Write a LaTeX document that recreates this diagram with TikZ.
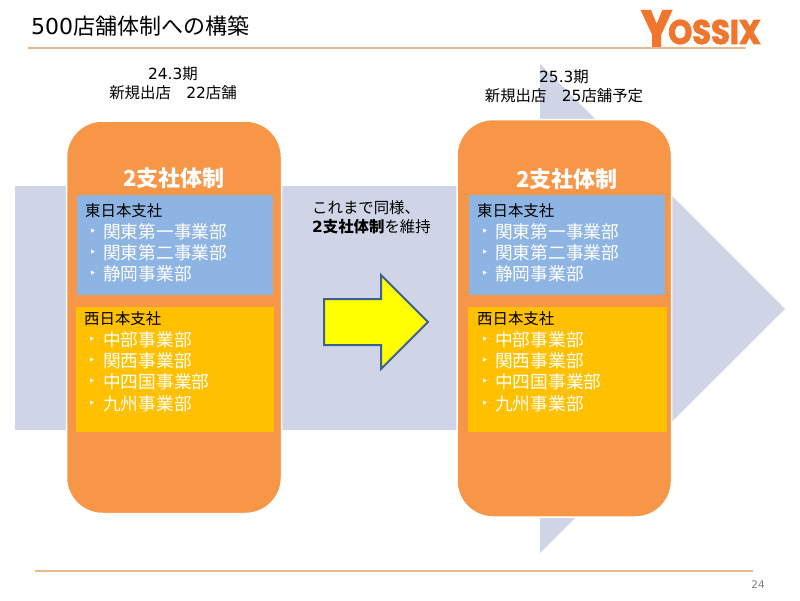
\documentclass[tikz,border=0pt]{standalone}
\usepackage{fontspec}
\setmainfont{DejaVu Sans}
\newfontfamily\cjk{Noto Sans CJK JP}
\newfontfamily\logofont[BoldFeatures={FakeBold=2.5,FakeStretch=0.9}]{Poppins}
\definecolor{bigarrow}{HTML}{CFD5E6}
\definecolor{orangebox}{HTML}{F79646}
\definecolor{bluebox}{HTML}{8EB4E3}
\definecolor{goldbox}{HTML}{FFC000}
\definecolor{rulecol}{HTML}{E8B888}
\definecolor{logocol}{HTML}{F0762E}
\definecolor{arrowedge}{HTML}{3F6190}
\definecolor{arrowfill}{HTML}{FFFF00}
\newcommand{\fs}[1]{\fontsize{#1}{#1}\selectfont}
\tikzset{
  x=1pt,y=-1pt,
  lbl/.style={inner sep=0pt,font=\cjk\fs{15.4},text=black,anchor=west},
  toptxt/.style={inner sep=0pt,font=\cjk\fs{15.4},text=black,align=center,anchor=center},
  headtxt/.style={inner sep=0pt,font=\cjk\bfseries\fs{22},text=white,anchor=center},
  itemtxt/.style={inner sep=0pt,font=\cjk\fs{17.7},text=white,anchor=west},
  tick/.style={inner sep=0pt,font=\fs{12},text=white,anchor=center},
  panel/.style={draw=white,line width=1.5pt,fill=orangebox,rounded corners=36pt},
  rulerline/.style={draw=rulecol,line width=1.2pt},
}
\begin{document}
\begin{tikzpicture}
\useasboundingbox (0,0) rectangle (800,600);
\fill[white] (0,0) rectangle (800,600);
% big arrow
\fill[bigarrow] (15,186) -- (540,186) -- (540,64) -- (785,309) -- (540,553) -- (540,430) -- (15,430) -- cycle;
% title
\node[inner sep=0pt,anchor=west] (title) at (31,26) {\fs{22}500\cjk\fs{22}店舗体制への構築};
\coordinate (r1a) at (28,48); \coordinate (r1b) at (746,48);
\draw[rulerline] (r1a) -- (r1b);
\coordinate (r2a) at (35,571); \coordinate (r2b) at (753,571);
\draw[rulerline] (r2a) -- (r2b);
\node[inner sep=0pt,text=gray,font=\fs{10.5}] (pageno) at (758,585) {24};
% logo
\node[inner sep=0pt,anchor=south west,text=logocol,font=\logofont\bfseries\fs{51}] (logoy) at (641,46.5) {Y};
\node[inner sep=0pt,anchor=west,text=logocol,font=\logofont\bfseries\fs{34}] (logor) at (668,32) {OSSIX};
% left panel
\node[toptxt] (l1) at (173,74) {\fontspec{DejaVu Sans}24.3\cjk 期};
\node[toptxt] (l2) at (173,93) {新規出店　{\fontspec{DejaVu Sans}22}店舗};
\draw[panel] (66.5,121) rectangle (281.5,513.5);
\node[headtxt] (lh) at (174,178) {2支社体制};
\fill[bluebox] (76.5,195) rectangle (272.5,295);
\fill[goldbox] (76,307) rectangle (274,432);
\node[lbl] (le) at (85,211) {東日本支社};
\node[tick] at (93,232.5) {‣}; \node[itemtxt] (le1) at (103,231.5) {関東第一事業部};
\node[tick] at (93,253.5) {‣}; \node[itemtxt] (le2) at (103,252.5) {関東第二事業部};
\node[tick] at (93,274.5) {‣}; \node[itemtxt] (le3) at (103,273.5) {静岡事業部};
\node[lbl] (lw) at (84,319) {西日本支社};
\node[tick] at (92,340.5) {‣}; \node[itemtxt] (lw1) at (103,339.5) {中部事業部};
\node[tick] at (92,361.5) {‣}; \node[itemtxt] (lw2) at (103,360.5) {関西事業部};
\node[tick] at (92,382.5) {‣}; \node[itemtxt] (lw3) at (103,381.5) {中四国事業部};
\node[tick] at (92,404.5) {‣}; \node[itemtxt] (lw4) at (103,403.5) {九州事業部};
% right panel
\draw[panel] (457,119.5) rectangle (671.5,517);
\node[toptxt] (r1) at (564,77) {\fontspec{DejaVu Sans}25.3\cjk 期};
\node[toptxt] (r2) at (564,96) {新規出店　{\fontspec{DejaVu Sans}25}店舗予定};
\node[headtxt] (rh) at (567,179) {2支社体制};
\fill[bluebox] (469,195) rectangle (665,295);
\fill[goldbox] (468,307) rectangle (667,432);
\node[lbl] (re) at (477,211) {東日本支社};
\node[tick] at (485,232.5) {‣}; \node[itemtxt] (re1) at (495,231.5) {関東第一事業部};
\node[tick] at (485,253.5) {‣}; \node[itemtxt] (re2) at (495,252.5) {関東第二事業部};
\node[tick] at (485,274.5) {‣}; \node[itemtxt] (re3) at (495,273.5) {静岡事業部};
\node[lbl] (rw) at (477,319) {西日本支社};
\node[tick] at (485,340.5) {‣}; \node[itemtxt] (rw1) at (495,339.5) {中部事業部};
\node[tick] at (485,361.5) {‣}; \node[itemtxt] (rw2) at (495,360.5) {関西事業部};
\node[tick] at (485,382.5) {‣}; \node[itemtxt] (rw3) at (495,381.5) {中四国事業部};
\node[tick] at (485,404.5) {‣}; \node[itemtxt] (rw4) at (495,403.5) {九州事業部};
% middle
\node[lbl] (m1) at (312,208) {これまで同様、};
\node[lbl] (m2) at (312,227) {{\fontspec{DejaVu Sans Bold}2\cjk\bfseries 支社体制}を維持};
\draw[draw=arrowedge,line width=2pt,fill=arrowfill] (324,299) -- (381,299) -- (381,275) -- (428,322) -- (381,369) -- (381,345) -- (324,345) -- cycle;
\end{tikzpicture}
\end{document}
